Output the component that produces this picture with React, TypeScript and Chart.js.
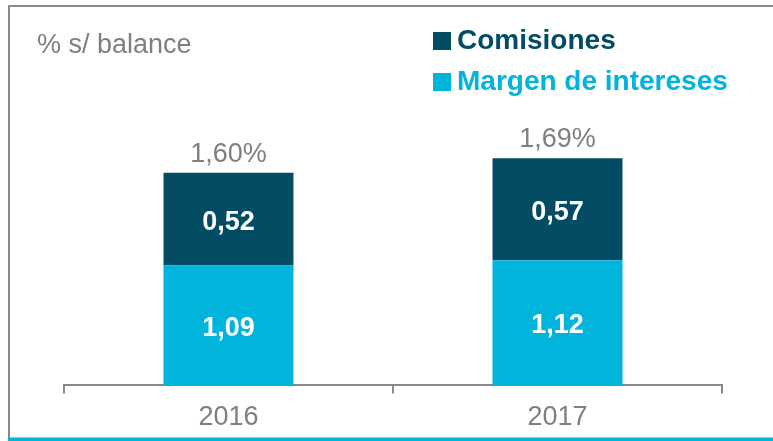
import React, { useEffect, useRef } from "react";
import { Chart, registerables } from "chart.js";

Chart.register(...registerables);

const years = ["2016", "2017"];
const margenIntereses = [1.09, 1.12];
const comisiones = [0.52, 0.57];
const totalLabels = ["1,60%", "1,69%"];
const unitLabel = "% s/ balance";
const seriesNames = ["Margen de intereses", "Comisiones"];

const CYAN = "#00b4dc";
const DARK = "#034c63";
const GRAY = "#7f7f7f";
const FONT = "'Liberation Sans', Arial, sans-serif";

const fmt = (v: number) => v.toFixed(2).replace(".", ",");

const decorPlugin = {
  id: "decor",
  beforeDraw(chart: any) {
    const { ctx, width, height } = chart;
    ctx.save();
    ctx.fillStyle = "#ffffff";
    ctx.fillRect(0, 0, width, height);
    // frame
    ctx.strokeStyle = "#8a8a8a";
    ctx.lineWidth = 2;
    ctx.beginPath();
    ctx.moveTo(width, 6);
    ctx.lineTo(9, 6);
    ctx.lineTo(9, 438);
    ctx.stroke();
    ctx.fillStyle = CYAN;
    ctx.fillRect(8, 437.5, width - 8, 4);
    // unit label
    ctx.fillStyle = GRAY;
    ctx.font = `27px ${FONT}`;
    ctx.textBaseline = "alphabetic";
    ctx.textAlign = "left";
    ctx.fillText(unitLabel, 37, 53);
    // legend (reverse order: top series first)
    const ds = chart.data.datasets;
    const order = [1, 0];
    const baselines = [49, 90];
    const squareTops = [32, 73];
    order.forEach((idx, i) => {
      const d = ds[idx];
      ctx.fillStyle = d.backgroundColor;
      ctx.fillRect(433, squareTops[i], 18, 18);
      ctx.font = `bold 28px ${FONT}`;
      ctx.fillText(d.label, 457, baselines[i]);
    });
    ctx.restore();
  },
  afterDatasetsDraw(chart: any) {
    const { ctx, chartArea } = chart;
    ctx.save();
    ctx.textAlign = "center";
    chart.data.datasets.forEach((d: any, di: number) => {
      const meta = chart.getDatasetMeta(di);
      meta.data.forEach((bar: any, i: number) => {
        const top = Math.max(chartArea.top, Math.min(bar.y, bar.base));
        const bottom = Math.min(chartArea.bottom, Math.max(bar.y, bar.base));
        ctx.fillStyle = "#ffffff";
        ctx.font = `bold 27px ${FONT}`;
        ctx.textBaseline = "middle";
        ctx.fillText(fmt(d.data[i]), bar.x, (top + bottom) / 2 + 3);
      });
    });
    const lastMeta = chart.getDatasetMeta(chart.data.datasets.length - 1);
    lastMeta.data.forEach((bar: any, i: number) => {
      ctx.fillStyle = GRAY;
      ctx.font = `27px ${FONT}`;
      ctx.textBaseline = "alphabetic";
      ctx.fillText(totalLabels[i], bar.x, Math.min(bar.y, bar.base) - 11);
    });
    ctx.restore();
  },
};

export default function App() {
  const ref = useRef<HTMLCanvasElement | null>(null);
  useEffect(() => {
    if (!ref.current) return;
    const chart = new Chart(ref.current, {
      type: "bar",
      data: {
        labels: years,
        datasets: [
          {
            label: seriesNames[0],
            data: margenIntereses,
            backgroundColor: CYAN,
            borderWidth: 0,
          },
          {
            label: seriesNames[1],
            data: comisiones,
            backgroundColor: DARK,
            borderWidth: 0,
          },
        ],
      },
      options: {
        animation: false,
        responsive: false,
        maintainAspectRatio: false,
        layout: { padding: { left: 64, right: 51, top: 67.16, bottom: 0 } },
        plugins: {
          legend: { display: false },
          title: { display: false },
          tooltip: { enabled: false },
        },
        datasets: {
          bar: { categoryPercentage: 1, barPercentage: 0.395 },
        },
        scales: {
          x: {
            stacked: true,
            grid: {
              display: true,
              drawOnChartArea: false,
              drawTicks: true,
              tickLength: 8,
              color: "#8a8a8a",
              lineWidth: 2,
              offset: true,
            },
            border: { display: true, color: "#8a8a8a", width: 2 },
            ticks: {
              color: GRAY,
              font: { family: FONT, size: 27 },
              padding: 7.6,
            },
          },
          y: {
            stacked: true,
            display: false,
            min: 0.42,
            max: 2.2,
          },
        },
      },
      plugins: [decorPlugin],
    });
    return () => chart.destroy();
  }, []);
  return (
    <div style={{ position: "fixed", left: 0, top: 0, width: 773, height: 441 }}>
      <canvas ref={ref} width={773} height={441} style={{ display: "block" }} />
    </div>
  );
}
